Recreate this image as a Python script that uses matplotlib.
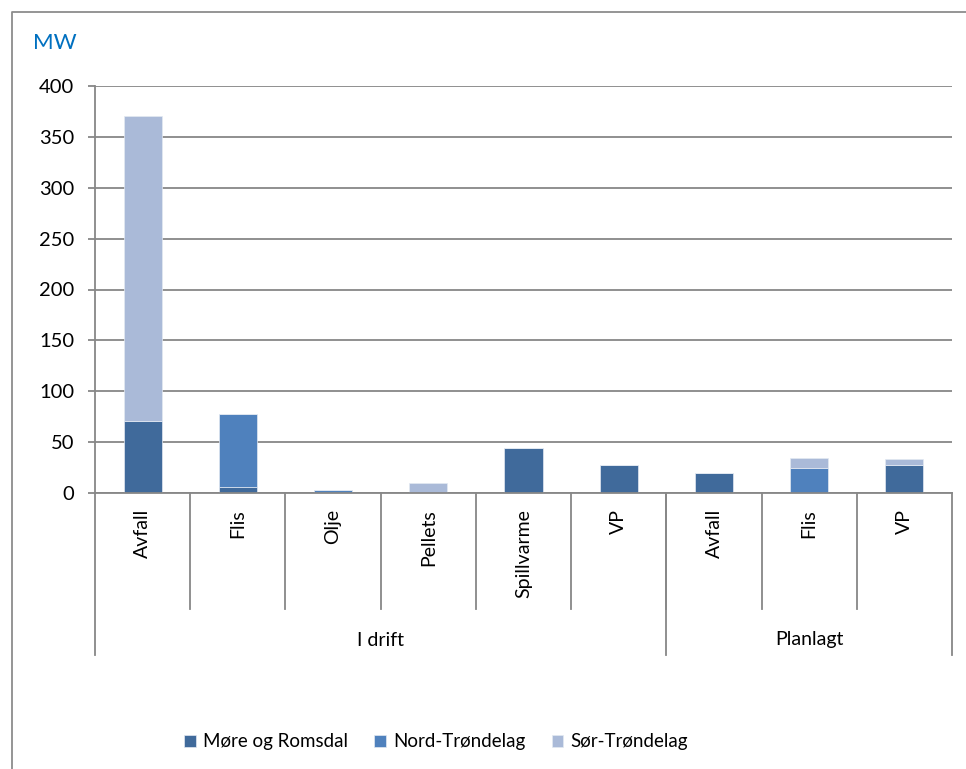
import numpy as np
import matplotlib.pyplot as plt
from matplotlib.lines import Line2D
from matplotlib.transforms import blended_transform_factory

plt.rcParams['font.family'] = ['Lato', 'DejaVu Sans']

# fuel type per bar, grouped by status
categories = ['Avfall', 'Flis', 'Olje', 'Pellets', 'Spillvarme', 'VP', 'Avfall', 'Flis', 'VP']
groups = ['I drift', 'Planlagt']
group_sizes = [6, 3]

# installed effect, MW
more_romsdal = [71, 6, 0, 0, 44, 28, 20, 0, 28]
nord_trondelag = [0, 72, 3, 0, 0, 0, 0, 25, 0]
sor_trondelag = [300, 0, 0, 10, 0, 0, 0, 9.5, 5.5]

series = ['Møre og Romsdal', 'Nord-Trøndelag', 'Sør-Trøndelag']
colors = ['#406A9B', '#4F81BD', '#AABAD8']
grey = '#878787'

W, H = 966, 769
fig = plt.figure(figsize=(W / 100, H / 100), dpi=100)
# chart frame: only left and top edges fall inside the image
fig.lines.append(Line2D([12 / W, 12 / W, 1], [0, 1 - 12 / H, 1 - 12 / H],
                        transform=fig.transFigure, color='#8c8c8c', lw=1.3))

ax = fig.add_axes([95 / W, (H - 493) / H, 857 / W, 407 / H])
x = np.arange(len(categories))
bottom = np.zeros(len(categories))
for vals, lab, col in zip([more_romsdal, nord_trondelag, sor_trondelag], series, colors):
    ax.bar(x, vals, width=0.4, bottom=bottom, color=col, label=lab,
           edgecolor='#e3e9f2', linewidth=0.5, zorder=3)
    bottom += np.array(vals)

ax.set_xlim(-0.5, len(categories) - 0.5)
ax.set_ylim(0, 400)
ax.set_yticks(range(0, 401, 50))
ax.yaxis.grid(True, color=grey, lw=1.3, zorder=0)
ax.tick_params(axis='y', length=5, width=1.3, color=grey, labelsize=14.5, pad=10)
ax.tick_params(axis='x', bottom=False, labelbottom=False)
for s in ['top', 'right', 'bottom']:
    ax.spines[s].set_visible(False)
ax.spines['left'].set_color(grey)
ax.spines['left'].set_linewidth(1.3)
ax.axhline(0, color=grey, lw=1.3, zorder=4, clip_on=False)

# two-level category axis below the plot
px = 1 / 407  # one pixel in axes height units
tr = blended_transform_factory(ax.transData, ax.transAxes)
ax.plot([-0.5, -0.5], [0, -162 * px], transform=tr, color=grey, lw=1.3, clip_on=False)
for i in range(1, len(categories)):
    ax.plot([i - 0.5, i - 0.5], [0, -116 * px], transform=tr, color=grey, lw=1.3, clip_on=False)
start = 0
for g, n in zip(groups, group_sizes):
    end = start + n
    ax.plot([end - 0.5, end - 0.5], [0, -162 * px], transform=tr, color=grey, lw=1.3, clip_on=False)
    ax.text((start + end - 1) / 2, -147 * px, g, transform=tr, ha='center', va='center', fontsize=14)
    start = end
for i, c in enumerate(categories):
    ax.text(i, -16 * px, c, transform=tr, rotation=90, ha='center', va='top', fontsize=14)

fig.text(33 / W, 1 - 43 / H, 'MW', color='#0070C0', fontsize=16, va='center', ha='left')

fig.legend(loc='center', bbox_to_anchor=(436 / W, 1 - 742 / H), ncol=3, frameon=False,
           fontsize=13.5, handlelength=0.6, handleheight=0.6, handletextpad=0.4,
           columnspacing=1.4)

fig.savefig('out.png', dpi=100)
